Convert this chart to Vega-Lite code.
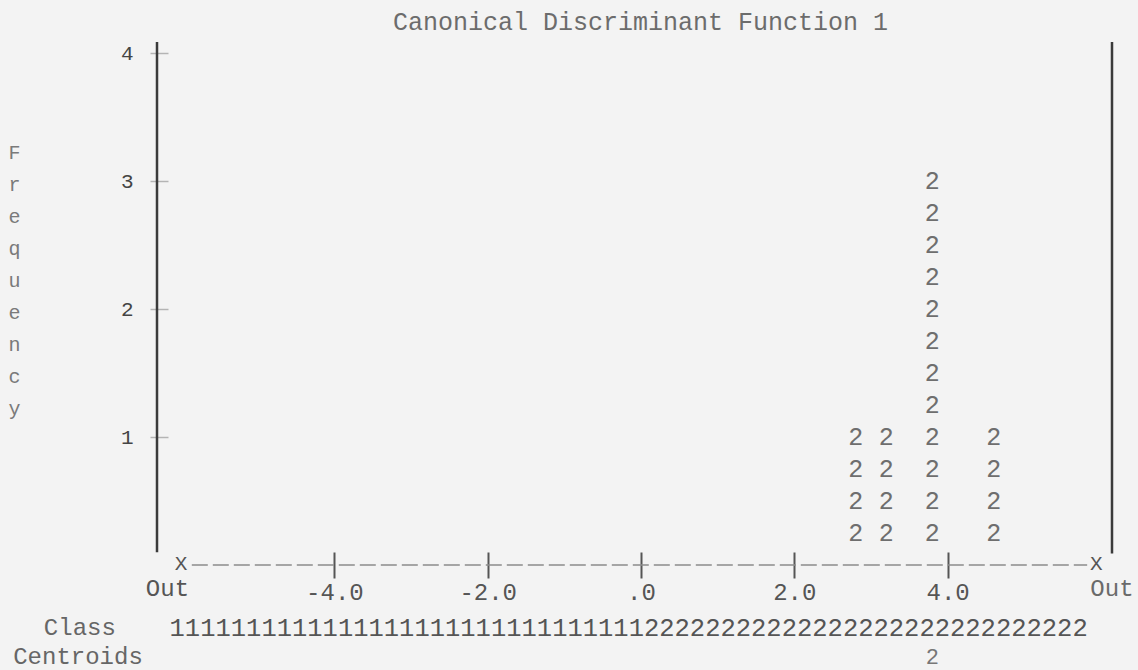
{
  "$schema": "https://vega.github.io/schema/vega-lite/v6.json",
  "width": 955,
  "height": 525,
  "autosize": "none",
  "padding": {"left": 157, "top": 40, "right": 26, "bottom": 105},
  "background": "#f3f3f3",
  "config": {
    "view": {"stroke": null},
    "text": {"font": "Liberation Mono"},
    "axis": {"grid": false, "domain": false}
  },
  "title": {
    "text": "Canonical Discriminant Function 1",
    "anchor": "middle",
    "frame": "group",
    "dx": 6,
    "offset": 5,
    "font": "Liberation Mono",
    "fontSize": 25,
    "fontWeight": "normal",
    "color": "#6c6c6c"
  },
  "data": {"values": [{}]},
  "datasets": {
    "tallies": [
      {"score": 2.8, "level": 0.25, "group": "2"},
      {"score": 2.8, "level": 0.5, "group": "2"},
      {"score": 2.8, "level": 0.75, "group": "2"},
      {"score": 2.8, "level": 1.0, "group": "2"},
      {"score": 3.2, "level": 0.25, "group": "2"},
      {"score": 3.2, "level": 0.5, "group": "2"},
      {"score": 3.2, "level": 0.75, "group": "2"},
      {"score": 3.2, "level": 1.0, "group": "2"},
      {"score": 3.8, "level": 0.25, "group": "2"},
      {"score": 3.8, "level": 0.5, "group": "2"},
      {"score": 3.8, "level": 0.75, "group": "2"},
      {"score": 3.8, "level": 1.0, "group": "2"},
      {"score": 3.8, "level": 1.25, "group": "2"},
      {"score": 3.8, "level": 1.5, "group": "2"},
      {"score": 3.8, "level": 1.75, "group": "2"},
      {"score": 3.8, "level": 2.0, "group": "2"},
      {"score": 3.8, "level": 2.25, "group": "2"},
      {"score": 3.8, "level": 2.5, "group": "2"},
      {"score": 3.8, "level": 2.75, "group": "2"},
      {"score": 3.8, "level": 3.0, "group": "2"},
      {"score": 4.6, "level": 0.25, "group": "2"},
      {"score": 4.6, "level": 0.5, "group": "2"},
      {"score": 4.6, "level": 0.75, "group": "2"},
      {"score": 4.6, "level": 1.0, "group": "2"}
    ],
    "bounds": [
      {"score": -6.0, "side": "low", "mark": "X", "label": "Out"},
      {"score": 5.94, "side": "high", "mark": "X", "label": "Out"}
    ],
    "territory": [
      {"label": "Class", "codes": "111111111111111111111111111111122222222222222222222222222222"}
    ],
    "centroids": [
      {"label": "Centroids", "group": "2", "centroid": 3.8}
    ]
  },
  "layer": [
    {
      "data": {"name": "tallies"},
      "mark": {"type": "text", "font": "Liberation Mono", "fontSize": 25, "color": "#6e6e6e", "baseline": "middle", "align": "center"},
      "encoding": {
        "x": {
          "field": "score", "type": "quantitative",
          "scale": {"domain": [-6.314, 6.144], "nice": false, "zero": false},
          "axis": {
            "values": [-4, -2, 0, 2, 4],
            "labelExpr": "datum.value == 0 ? '.0' : (datum.value < 0 ? '-' : '') + format(abs(datum.value), '.1f')",
            "domain": false, "grid": false,
            "offset": -13, "tickSize": 26, "tickWidth": 2, "tickColor": "#555555",
            "labelFont": "Liberation Mono", "labelFontSize": 24, "labelColor": "#555555",
            "labelPadding": 2, "labelFlush": false, "labelOverlap": false,
            "title": null
          }
        },
        "y": {
          "field": "level", "type": "quantitative",
          "scale": {"domain": [0, 4.1016], "nice": false, "zero": false},
          "axis": {
            "values": [1, 2, 3, 4], "format": "d",
            "domain": false, "grid": false,
            "offset": -11, "tickSize": 18, "tickWidth": 1.5, "tickColor": "#b4b4b4",
            "labelFont": "Liberation Mono", "labelFontSize": 21, "labelColor": "#444444",
            "labelPadding": 17,
            "title": ["F", "r", "e", "q", "u", "e", "n", "c", "y"],
            "titleAngle": 0, "titleX": -154, "titleY": 112,
            "titleAlign": "center", "titleBaseline": "middle", "titleLineHeight": 32,
            "titleFont": "Liberation Mono", "titleFontSize": 20, "titleFontWeight": "normal",
            "titleColor": "#7a7a7a"
          }
        },
        "text": {"field": "group"}
      }
    },
    {
      "mark": {"type": "rule", "color": "#3a3a3a", "strokeWidth": 2.5},
      "encoding": {
        "x": {"datum": -6.314, "type": "quantitative", "scale": {"domain": [-6.314, 6.144], "nice": false, "zero": false}},
        "y": {"datum": 0.1, "type": "quantitative", "scale": {"domain": [0, 4.1016], "nice": false, "zero": false}},
        "y2": {"datum": 4.086}
      }
    },
    {
      "mark": {"type": "rule", "color": "#3a3a3a", "strokeWidth": 2.5},
      "encoding": {
        "x": {"datum": 6.144, "type": "quantitative", "scale": {"domain": [-6.314, 6.144], "nice": false, "zero": false}},
        "y": {"datum": 0.09, "type": "quantitative", "scale": {"domain": [0, 4.1016], "nice": false, "zero": false}},
        "y2": {"datum": 4.086}
      }
    },
    {
      "mark": {"type": "rule", "color": "#8c8c8c", "strokeWidth": 1.5, "strokeDash": [16, 5]},
      "encoding": {
        "x": {"datum": -5.86, "type": "quantitative", "scale": {"domain": [-6.314, 6.144], "nice": false, "zero": false}},
        "x2": {"datum": 5.82},
        "y": {"datum": 0, "type": "quantitative", "scale": {"domain": [0, 4.1016], "nice": false, "zero": false}}
      }
    },
    {
      "data": {"name": "bounds"},
      "mark": {"type": "text", "font": "Liberation Mono", "fontSize": 21, "color": "#555555", "baseline": "middle", "align": "center"},
      "encoding": {
        "x": {"field": "score", "type": "quantitative", "scale": {"domain": [-6.314, 6.144], "nice": false, "zero": false}},
        "y": {"datum": 0.01, "type": "quantitative", "scale": {"domain": [0, 4.1016], "nice": false, "zero": false}},
        "text": {"field": "mark"}
      }
    },
    {
      "data": {"name": "bounds"},
      "transform": [{"filter": "datum.side == 'low'"}],
      "mark": {"type": "text", "font": "Liberation Mono", "fontSize": 24, "color": "#555555", "baseline": "middle", "align": "right", "dx": 8},
      "encoding": {
        "x": {"field": "score", "type": "quantitative", "scale": {"domain": [-6.314, 6.144], "nice": false, "zero": false}},
        "y": {"datum": -0.185, "type": "quantitative", "scale": {"domain": [0, 4.1016], "nice": false, "zero": false}},
        "text": {"field": "label"}
      }
    },
    {
      "data": {"name": "bounds"},
      "transform": [{"filter": "datum.side == 'high'"}],
      "mark": {"type": "text", "font": "Liberation Mono", "fontSize": 24, "color": "#6a6a6a", "baseline": "middle", "align": "left", "dx": -6},
      "encoding": {
        "x": {"field": "score", "type": "quantitative", "scale": {"domain": [-6.314, 6.144], "nice": false, "zero": false}},
        "y": {"datum": -0.185, "type": "quantitative", "scale": {"domain": [0, 4.1016], "nice": false, "zero": false}},
        "text": {"field": "label"}
      }
    },
    {
      "data": {"name": "territory"},
      "mark": {"type": "text", "font": "Liberation Mono", "fontSize": 24, "color": "#666666", "baseline": "middle", "align": "left"},
      "encoding": {
        "x": {"datum": -7.79, "type": "quantitative", "scale": {"domain": [-6.314, 6.144], "nice": false, "zero": false}},
        "y": {"datum": -0.49, "type": "quantitative", "scale": {"domain": [0, 4.1016], "nice": false, "zero": false}},
        "text": {"field": "label"}
      }
    },
    {
      "data": {"name": "territory"},
      "mark": {"type": "text", "font": "Liberation Mono", "fontSize": 25.5, "color": "#555555", "baseline": "middle", "align": "left"},
      "encoding": {
        "x": {"datum": -6.15, "type": "quantitative", "scale": {"domain": [-6.314, 6.144], "nice": false, "zero": false}},
        "y": {"datum": -0.49, "type": "quantitative", "scale": {"domain": [0, 4.1016], "nice": false, "zero": false}},
        "text": {"field": "codes"}
      }
    },
    {
      "data": {"name": "centroids"},
      "mark": {"type": "text", "font": "Liberation Mono", "fontSize": 24, "color": "#666666", "baseline": "middle", "align": "left"},
      "encoding": {
        "x": {"datum": -8.19, "type": "quantitative", "scale": {"domain": [-6.314, 6.144], "nice": false, "zero": false}},
        "y": {"datum": -0.72, "type": "quantitative", "scale": {"domain": [0, 4.1016], "nice": false, "zero": false}},
        "text": {"field": "label"}
      }
    },
    {
      "data": {"name": "centroids"},
      "mark": {"type": "text", "font": "Liberation Mono", "fontSize": 22, "color": "#777777", "baseline": "middle", "align": "center"},
      "encoding": {
        "x": {"field": "centroid", "type": "quantitative", "scale": {"domain": [-6.314, 6.144], "nice": false, "zero": false}},
        "y": {"datum": -0.72, "type": "quantitative", "scale": {"domain": [0, 4.1016], "nice": false, "zero": false}},
        "text": {"field": "group"}
      }
    }
  ]
}
